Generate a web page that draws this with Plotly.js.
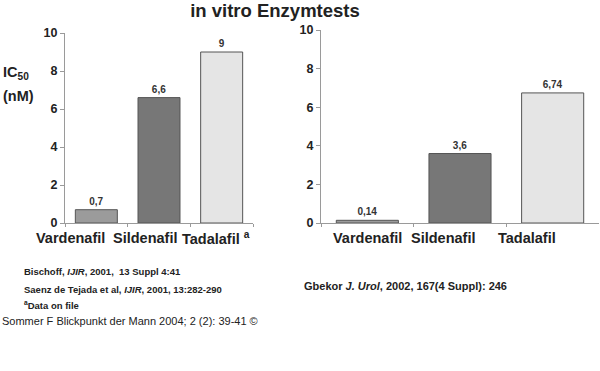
<!DOCTYPE html>
<html>
<head>
<meta charset="utf-8">
<script src="https://cdn.plot.ly/plotly-3.0.1.min.js"></script>
<style>html,body{margin:0;padding:0;background:#fff;}#chart{width:600px;height:371px;}</style>
</head>
<body>
<div id="chart"></div>
<script>
// ---- data ----
const categories = ["Vardenafil", "Sildenafil", "Tadalafil"];
const leftValues = [0.7, 6.6, 9];
const rightValues = [0.14, 3.6, 6.74];
const leftMarkers = ["", "", "a"];          // footnote markers on left chart labels
const yTickVals = [0, 2, 4, 6, 8, 10];
const barColors = ["#9b9b9b", "#777777", "#e5e5e5"];
const titleText = "in vitro Enzymtests";
const yTitleMain = "IC<sub>50</sub>";
const yTitleUnit = "(nM)";
const leftRefs = [
  "Bischoff, <i>IJIR</i>, 2001, &nbsp;13 Suppl 4:41",
  "Saenz de Tejada et al, <i>IJIR</i>, 2001, 13:282-290",
  "<sup>a</sup>Data on file"
];
const rightRef = "Gbekor <i>J. Urol</i>, 2002, 167(4 Suppl): 246";
const sourceText = "Sommer F Blickpunkt der Mann 2004; 2 (2): 39-41 ©";

// ---- helpers ----
const W = 600, H = 371;
const px = x => x / W;
const py = y => 1 - y / H;
const fmt = v => String(v).replace('.', ',');
const FONT = "Liberation Sans, Arial, Helvetica, sans-serif";

function barTrace(vals, xa, ya) {
  return {
    type: "bar",
    x: categories,
    y: vals,
    xaxis: xa, yaxis: ya,
    width: 0.67,
    marker: { color: barColors, line: { color: "#555555", width: 1 } },
    text: vals.map(fmt),
    textposition: "outside",
    textfont: { family: FONT, size: 10, color: "#333", weight: "bold" },
    cliponaxis: false,
    hoverinfo: "skip",
    showlegend: false
  };
}

const data = [barTrace(leftValues, "x", "y"), barTrace(rightValues, "x2", "y2")];

const yAxisCommon = {
  range: [0, 10],
  tickvals: yTickVals,
  showgrid: false,
  zeroline: false,
  showline: true,
  linecolor: "#9a9a9a",
  linewidth: 1,
  ticks: "outside",
  ticklen: 4,
  tickcolor: "#9a9a9a",
  tickfont: { family: FONT, size: 12.5, color: "#222", weight: "bold" },
  fixedrange: true
};
const xAxisCommon = {
  type: "category",
  range: [-0.5, 2.5],
  showticklabels: false,
  showgrid: false,
  zeroline: false,
  showline: true,
  linecolor: "#9a9a9a",
  linewidth: 1,
  ticks: "outside",
  tickson: "boundaries",
  ticklen: 3,
  tickcolor: "#9a9a9a",
  fixedrange: true
};

const labelFont = { family: FONT, size: 14.5, color: "#222", weight: "bold" };
const leftLabelPos = [-0.42, 0.77, 1.91];
const rightLabelPos = [0.0, 0.82, 1.72];
const annotations = [];
categories.forEach((c, i) => {
  annotations.push({
    xref: "x", yref: "paper", x: leftLabelPos[i], y: py(238),
    text: c + (leftMarkers[i] ? " <sup>" + leftMarkers[i] + "</sup>" : ""),
    showarrow: false, font: labelFont, xanchor: "center", yanchor: "middle"
  });
  annotations.push({
    xref: "x2", yref: "paper", x: rightLabelPos[i], y: py(238),
    text: c, showarrow: false, font: labelFont, xanchor: "center", yanchor: "middle"
  });
});
const refFont = { family: FONT, size: 9.5, color: "#222", weight: "bold" };
const refY = [271, 289, 305];
leftRefs.forEach((t, i) => {
  annotations.push({
    xref: "paper", yref: "paper", x: px(22), y: py(refY[i]), text: t,
    showarrow: false, font: refFont, xanchor: "left", yanchor: "middle"
  });
});
annotations.push({
  xref: "paper", yref: "paper", x: px(302), y: py(286), text: rightRef,
  showarrow: false, font: { family: FONT, size: 11, color: "#222", weight: "bold" },
  xanchor: "left", yanchor: "middle"
});
annotations.push({
  xref: "paper", yref: "paper", x: px(0), y: py(321), text: sourceText,
  showarrow: false, font: { family: FONT, size: 11, color: "#222" }, xanchor: "left", yanchor: "middle"
});
annotations.push({
  xref: "paper", yref: "paper", x: px(1), y: py(73), text: yTitleMain,
  showarrow: false, font: { family: FONT, size: 14.5, color: "#222", weight: "bold" }, xanchor: "left", yanchor: "middle"
});
annotations.push({
  xref: "paper", yref: "paper", x: px(1), y: py(96), text: yTitleUnit,
  showarrow: false, font: { family: FONT, size: 14.5, color: "#222", weight: "bold" }, xanchor: "left", yanchor: "middle"
});

const layout = {
  width: W, height: H,
  margin: { l: 0, r: 0, t: 0, b: 0 },
  paper_bgcolor: "#ffffff",
  plot_bgcolor: "#ffffff",
  title: {
    text: titleText,
    x: px(275), xanchor: "center",
    y: 1 - 11 / H, yanchor: "middle",
    font: { family: FONT, size: 18.5, color: "#222", weight: "bold" }
  },
  xaxis: Object.assign({}, xAxisCommon, { domain: [px(65), px(253)], anchor: "y" }),
  yaxis: Object.assign({}, yAxisCommon, { domain: [py(223), py(33)], anchor: "x" }),
  xaxis2: Object.assign({}, xAxisCommon, { domain: [px(321), px(599)], anchor: "y2" }),
  yaxis2: Object.assign({}, yAxisCommon, { domain: [py(223), py(30)], anchor: "x2" }),
  annotations: annotations,
  showlegend: false
};

Plotly.newPlot("chart", data, layout, { displayModeBar: false, staticPlot: true });
</script>
</body>
</html>
